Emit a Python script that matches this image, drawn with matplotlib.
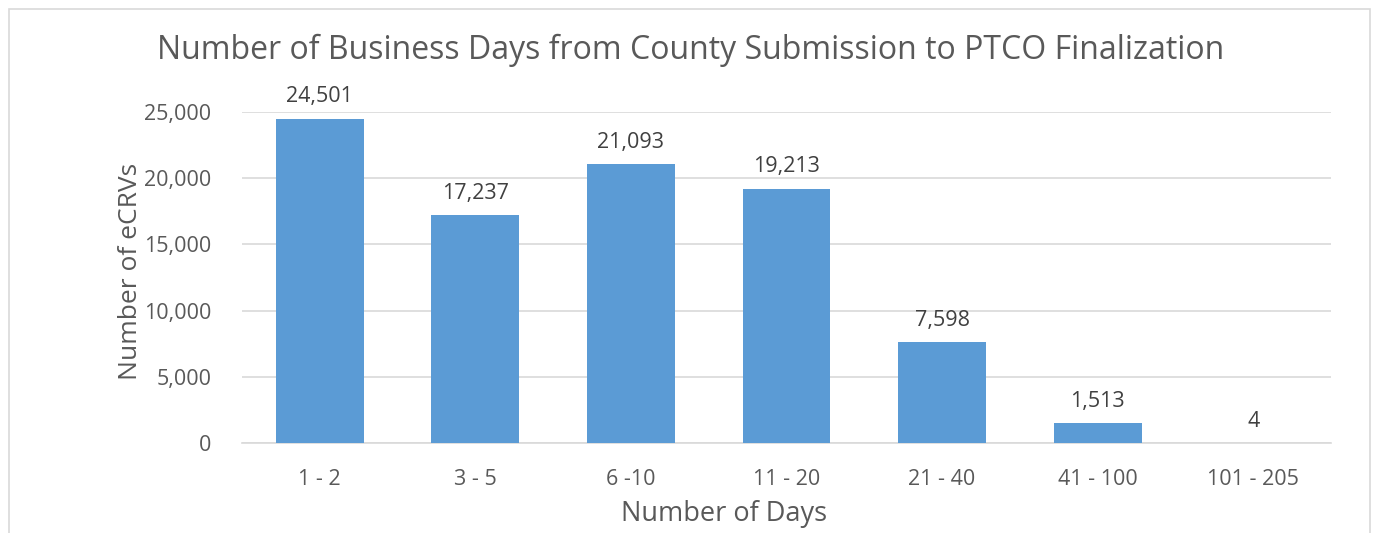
import matplotlib
matplotlib.use("Agg")
import matplotlib.pyplot as plt
from matplotlib.patches import Rectangle

# days from county submission to PTCO finalization
day_ranges = ["1 - 2", "3 - 5", "6 -10", "11 - 20", "21 - 40", "41 - 100", "101 - 205"]
ecrv_counts = [24501, 17237, 21093, 19213, 7598, 1513, 4]
y_ticks = [0, 5000, 10000, 15000, 20000, 25000]

plt.rcParams['font.family'] = ['Open Sans', 'DejaVu Sans']

fig = plt.figure(figsize=(13.79, 5.33), dpi=100)
ax = fig.add_axes([0.1755, 0.1689, 0.7897, 0.6211])

# chart border like the Excel frame
fig.patches.append(Rectangle((9 / 1379, -0.1), (1370 - 9) / 1379, 1 - 9 / 533 + 0.1,
                             transform=fig.transFigure, fill=False,
                             edgecolor='#D9D9D9', linewidth=1.2))

x = range(len(day_ranges))
bars = ax.bar(x, ecrv_counts, width=0.565, color='#5B9BD5', zorder=3)

for b, v in zip(bars, ecrv_counts):
    ax.annotate(f"{v:,}", (b.get_x() + b.get_width() / 2, v),
                xytext=(0, 8), textcoords='offset points',
                ha='center', va='bottom', fontsize=15.5, color='#404040')

ax.set_xlim(-0.5, len(day_ranges) - 0.5)
ax.set_ylim(0, 25000)
ax.set_yticks(y_ticks)
ax.set_yticklabels([f"{t:,}" for t in y_ticks])
ax.set_xticks(list(x))
ax.set_xticklabels(day_ranges)
ax.tick_params(axis='both', length=0, labelsize=15.5, labelcolor='#595959')
ax.tick_params(axis='x', pad=19)
ax.tick_params(axis='y', pad=22)

ax.grid(axis='y', color='#D9D9D9', linewidth=1.2, zorder=0)
for s in ['top', 'right', 'left']:
    ax.spines[s].set_visible(False)
ax.spines['bottom'].set_color('#D9D9D9')
ax.spines['bottom'].set_linewidth(1.2)

ax.set_xlabel('Number of Days', fontsize=19.5, color='#595959')
ax.xaxis.set_label_coords((724 - 242) / (1331 - 242), -(500 - 443) / (443 - 112))
ax.set_ylabel('Number of eCRVs', fontsize=19, color='#595959')
ax.yaxis.set_label_coords(-(242 - 143) / (1331 - 242), (443 - 271) / (443 - 112))
fig.text(0.5005, 0.905, 'Number of Business Days from County Submission to PTCO Finalization',
         ha='center', va='center', fontsize=23, color='#595959')

fig.savefig('out.png', dpi=100)
